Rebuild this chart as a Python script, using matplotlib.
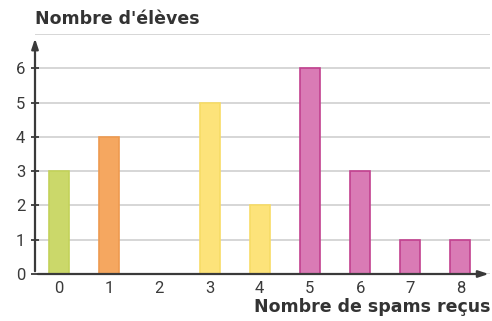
import matplotlib.pyplot as plt

spams = [0, 1, 2, 3, 4, 5, 6, 7, 8]
eleves = [3, 4, 0, 5, 2, 6, 3, 1, 1]
faces = ['#cbd86a', '#f5a760', '#fde37a', '#fde37a', '#fde37a',
         '#d97bb5', '#d97bb5', '#d97bb5', '#d97bb5']
edges = ['#c3d25a', '#ee9a50', '#f8dc66', '#f8dc66', '#f8dc66',
         '#c2418f', '#c2418f', '#c2418f', '#c2418f']

plt.rcParams['font.family'] = ['Roboto', 'DejaVu Sans']

fig = plt.figure(figsize=(4.92, 3.21), dpi=100)
ax = fig.add_axes([35 / 492, 1 - 274 / 321, 455 / 492, 240 / 321])

ax.bar(spams, eleves, width=0.4, color=faces, edgecolor=edges, linewidth=1.2, zorder=3)

ax.set_xlim(-0.48, 8.59)
ax.set_ylim(0, 7)
ax.set_yticks(range(0, 7))
ax.set_yticks([7], minor=True)
ax.yaxis.grid(True, which='both', color='#d6d6d6', linewidth=1.4, zorder=0)
ax.tick_params(axis='y', which='minor', length=0)
for s in ax.spines.values():
    s.set_visible(False)

ax.set_xticks(spams)
ax.set_xticklabels([str(v) for v in spams])
ax.tick_params(axis='x', length=0, pad=5, labelsize=12, colors='#3a3a3a')
ax.tick_params(axis='y', which='major', length=6, width=1.3, direction='inout', pad=4,
               labelsize=12, colors='#3a3a3a')

# axes with arrows
ax.annotate('', xy=(-0.48, 6.95), xytext=(-0.48, 0),
            arrowprops=dict(arrowstyle='-|>,head_length=0.6,head_width=0.2',
                            color='#3a3a3a', lw=1.6), zorder=5)
ax.annotate('', xy=(8.62, 0), xytext=(-0.48, 0),
            arrowprops=dict(arrowstyle='-|>,head_length=0.6,head_width=0.2',
                            color='#3a3a3a', lw=1.6), zorder=5, annotation_clip=False)

fig.text(35 / 492, 1 - 19 / 321, "Nombre d'élèves", fontsize=12.5, family='DejaVu Sans',
         fontweight='bold', color='#333333', va='center', ha='left')
fig.text(490 / 492, 1 - 307 / 321, "Nombre de spams reçus", fontsize=12.5, family='DejaVu Sans',
         fontweight='bold', color='#333333', va='center', ha='right')

fig.savefig('out.png', dpi=100)
